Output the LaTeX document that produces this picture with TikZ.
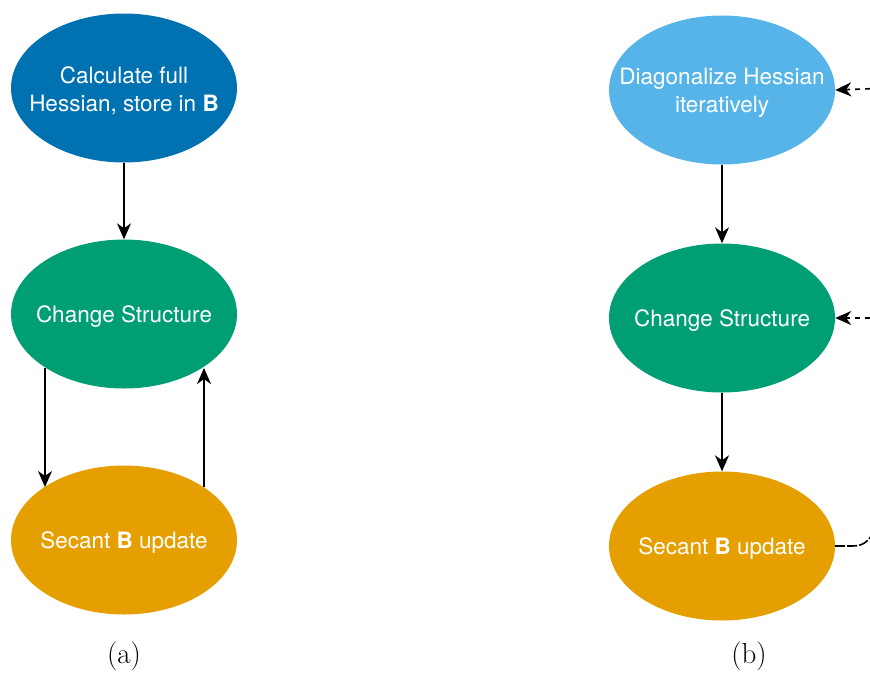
\documentclass[tikz,border=0pt]{standalone}
\usepackage{fontspec}
\setsansfont{TeX Gyre Heros}
\usetikzlibrary{shapes.geometric,arrows.meta}
\definecolor{okblue}{HTML}{0072B2}
\definecolor{okgreen}{HTML}{009E73}
\definecolor{okorange}{HTML}{E69F00}
\definecolor{oksky}{HTML}{56B4E9}
\tikzset{
  stage/.style={ellipse, draw=none, minimum width=226pt, minimum height=149pt,
    inner sep=0pt},
  stagetext/.style={align=center, text=white, inner sep=0pt, yshift=-3pt,
    font=\sffamily\fontsize{22.5}{28}\selectfont},
  flow/.style={line width=1.6pt, -{Stealth[length=16pt,width=14pt,inset=5pt]}},
  dashflow/.style={flow, dash pattern=on 5pt off 5pt},
  caption/.style={font=\fontsize{29}{33}\selectfont}
}
\begin{document}
\begin{tikzpicture}[x=1pt,y=-1pt]
\useasboundingbox (0,0) rectangle (870,673);
\clip (0,0) rectangle (870,673);

% (a): full Hessian followed by secant updates
\node[stage, fill=okblue]   (a1) at (124,88)  {};
\node[stage, fill=okgreen]  (a2) at (124,314) {};
\node[stage, fill=okorange] (a3) at (124,540) {};
\node[stagetext] (a1t) at (a1) {Calculate full\\Hessian, store in \textbf{B}};
\node[stagetext] (a2t) at (a2) {Change Structure};
\node[stagetext] (a3t) at (a3) {Secant \textbf{B} update};

\draw[flow] (a1) -- (a2);
\coordinate (a2l) at (45,368);
\coordinate (a3l) at (45,487);
\coordinate (a2r) at (204,368);
\coordinate (a3r) at (204,487);
\draw[flow] (a2l) -- (a3l);
\draw[flow] (a3r) -- (a2r);

% (b): iterative diagonalization with feedback from the update
\node[stage, fill=oksky]    (b1) at (722,90)  {};
\node[stage, fill=okgreen]  (b2) at (722,318) {};
\node[stage, fill=okorange] (b3) at (722,546) {};
\node[stagetext] (b1t) at (b1) {Diagonalize Hessian\\iteratively};
\node[stagetext] (b2t) at (b2) {Change Structure};
\node[stagetext] (b3t) at (b3) {Secant \textbf{B} update};

\draw[flow] (b1) -- (b2);
\draw[flow] (b2) -- (b3);

\coordinate (in1) at (890,88);
\coordinate (in2) at (890,318);
\draw[dashflow] (in1) -- (b1.east);
\draw[dashflow] (in2) -- (b2.east);
\draw[line width=1.6pt, dash pattern=on 10pt off 2pt]
  (b3.east) -- (852,546) .. controls (866,546) and (870,540) .. (880,520);

\node[caption] (capa) at (124,656) {(a)};
\node[caption] (capb) at (749,656) {(b)};
\end{tikzpicture}
\end{document}
